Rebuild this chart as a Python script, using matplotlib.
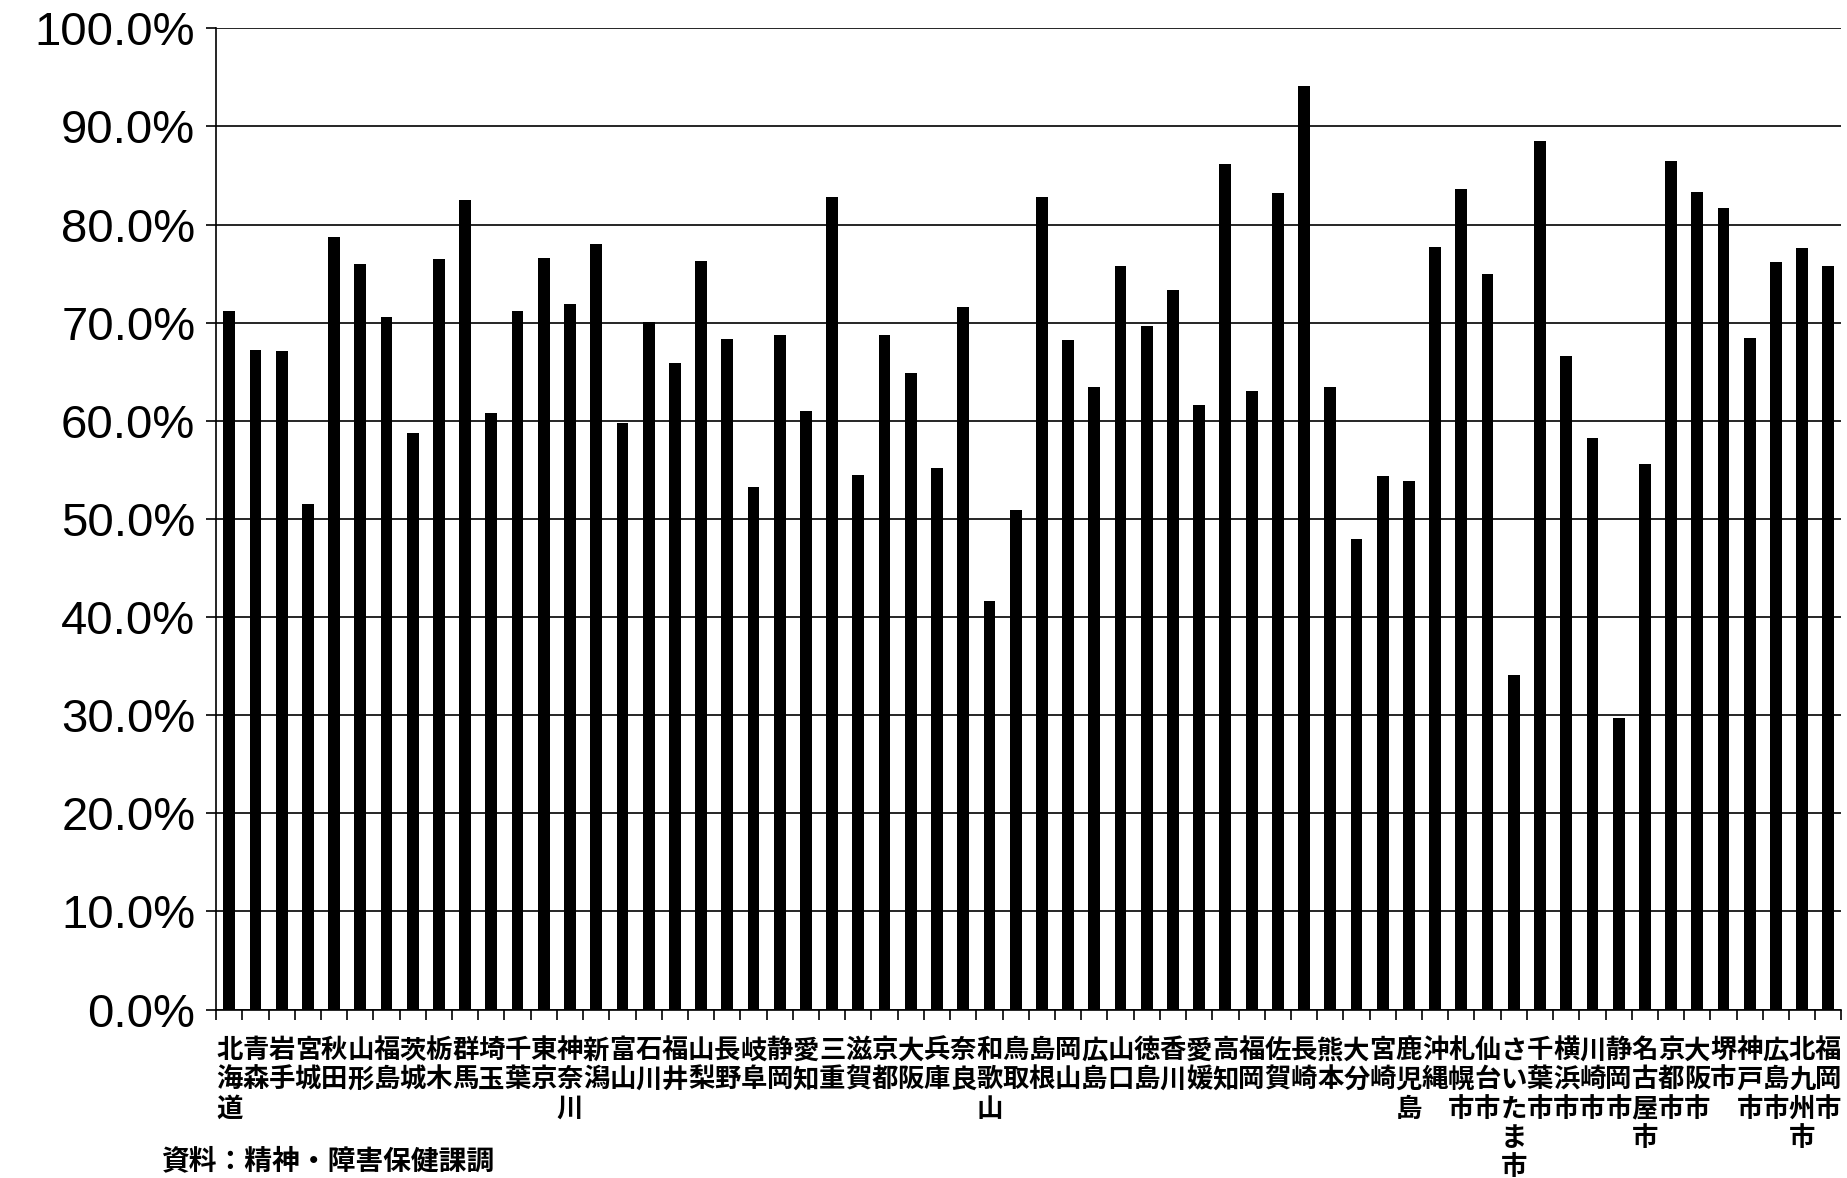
import numpy as np
import matplotlib.pyplot as plt
from matplotlib.ticker import FixedLocator

names = ['北海道', '青森', '岩手', '宮城', '秋田', '山形', '福島', '茨城', '栃木', '群馬',
         '埼玉', '千葉', '東京', '神奈川', '新潟', '富山', '石川', '福井', '山梨', '長野',
         '岐阜', '静岡', '愛知', '三重', '滋賀', '京都', '大阪', '兵庫', '奈良', '和歌山',
         '鳥取', '島根', '岡山', '広島', '山口', '徳島', '香川', '愛媛', '高知', '福岡',
         '佐賀', '長崎', '熊本', '大分', '宮崎', '鹿児島', '沖縄',
         '札幌市', '仙台市', 'さいたま市', '千葉市', '横浜市', '川崎市', '静岡市', '名古屋市',
         '京都市', '大阪市', '堺市', '神戸市', '広島市', '北九州市', '福岡市']
values = [71.2, 67.2, 67.1, 51.5, 78.7, 76.0, 70.6, 58.8, 76.5, 82.5,
          60.8, 71.2, 76.6, 71.9, 78.0, 59.8, 70.1, 65.9, 76.3, 68.3,
          53.3, 68.7, 61.0, 82.8, 54.5, 68.7, 64.9, 55.2, 71.6, 41.6,
          50.9, 82.8, 68.2, 63.4, 75.8, 69.7, 73.3, 61.6, 86.2, 63.0,
          83.2, 94.1, 63.4, 48.0, 54.4, 53.9, 77.7,
          83.6, 75.0, 34.1, 88.5, 66.6, 58.2, 29.7, 55.6,
          86.5, 83.3, 81.7, 68.4, 76.2, 77.6, 75.8]

fig = plt.figure(figsize=(18.47, 11.78), dpi=100)
ax = fig.add_axes([0.117, 0.143, 0.880, 0.833])
x = np.arange(len(names))
ax.bar(x, values, width=0.45, color='black', zorder=3)
ax.set_xlim(-0.5, len(names) - 0.5)
ax.set_ylim(0, 100)
ax.set_yticks(np.arange(0, 101, 10))
ax.set_yticklabels([f'{v:.1f}%' for v in range(0, 101, 10)],
                   fontfamily='Liberation Sans', fontsize=34)
ax.yaxis.grid(True, color='black', linewidth=1.2, zorder=0)
ax.set_xticks(x)
ax.set_xticklabels(['\n'.join(n) for n in names], fontfamily='Noto Sans CJK JP',
                   fontsize=19, fontweight='bold', va='top', linespacing=1.1)
ax.tick_params(axis='x', length=0, pad=20)
ax.xaxis.set_minor_locator(FixedLocator(np.arange(-0.5, len(names), 1)))
ax.tick_params(axis='x', which='minor', length=7, width=1.2, direction='out')
ax.tick_params(axis='y', length=7, width=1.2, direction='out', pad=8)
for s in ['top', 'right']:
    ax.spines[s].set_visible(False)
for s in ['left', 'bottom']:
    ax.spines[s].set_linewidth(1.2)

fig.text(0.087, 0.014, '資料：精神・障害保健課調', fontfamily='Noto Sans CJK JP',
         fontsize=20, fontweight='bold', va='center', ha='left')
fig.savefig('out.png', dpi=100)
